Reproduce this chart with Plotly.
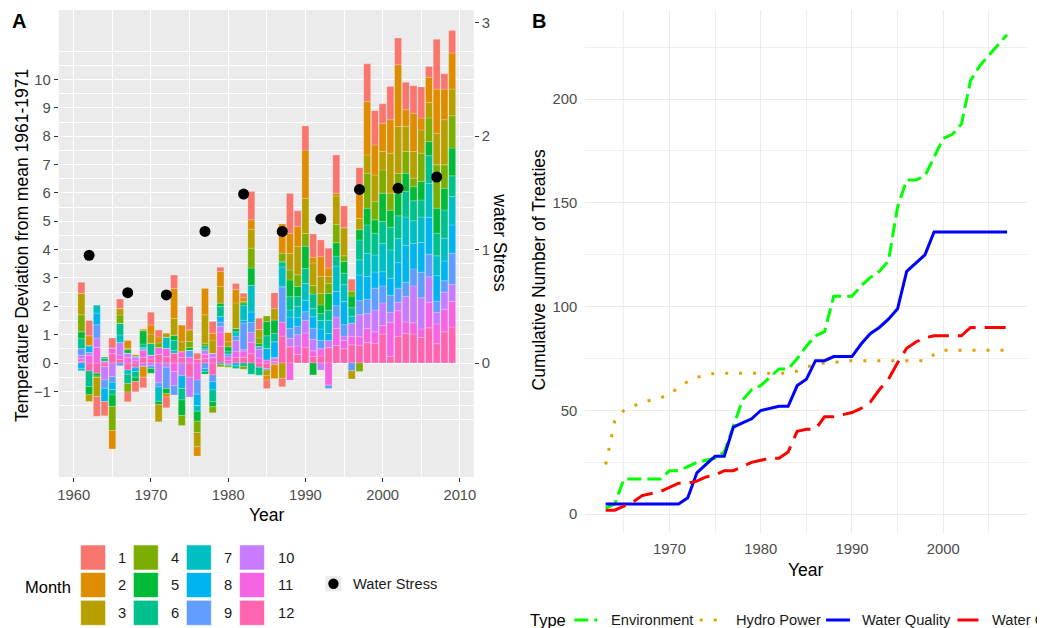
import plotly.graph_objects as go

W, H = 1045, 628
# the page body adds an 8px margin; positions below are screen pixels
OFF_X, OFF_Y = 8, 8

# ---------------- Panel A data ----------------
years = list(range(1961, 2010))
month_labels = ["1", "2", "3", "4", "5", "6", "7", "8", "9", "10", "11", "12"]
month_colors = ["#F8766D", "#DE8C00", "#B79F00", "#7CAE00", "#00BA38", "#00C08B",
                "#00BFC4", "#00B4F0", "#619CFF", "#C77CFF", "#F564E3", "#FF64B0"]

m1 = [0.39, 0.54, -0.7, -0.5, 0.35, 0.33, -0.35, -0.36, -0.37, 0.45,
      0.24, -0.38, 0.47, 0, 0.82, 0.2, 0, 0.41, 0.15, 0,
      0.21, 0.14, 1.0, 0.4, -0.3, 0.55, -0.3, 1.41, 0.56, 0.85,
      0.82, 0.59, 0.7, 1.35, 0.77, 0.41, 0.79, 1.33, 1.21, 0.68,
      1.17, 0.94, 0.97, 0.97, 1.09, 0.38, 1.76, 0.54, 0.8]
m2 = [0, 0.35, 0, 0, -0.65, 0, 0.27, 0, -0.38, 0.32,
      0.21, -0.12, 1.06, 0.59, 0, -0.33, 0.94, 0.24, 0.53, 0.33,
      0.47, 0.15, 0.33, 0, -0.15, -0.5, 1.03, 0.7, 0.7, 1.7,
      0.2, 0.7, 0.3, 0.1, 0, 0, 1.0, 1.88, 1.06, 1.0,
      1.18, 2.18, 0.59, 1.35, 0.42, 0.89, 1.56, 1.08, 1.27]
m3 = [0.76, -0.24, -0.67, 0, 0, 0.24, 0.05, 0.05, 0.05, 0.33,
      -0.6, 0.14, 0.59, 0.35, 0.41, -0.5, 1.0, 0.47, 0.59, 0.18,
      0.9, 0.05, 0.67, 0.3, -0.2, 0.41, -0.54, 0.59, 1.0, 1.24,
      0.8, 0.6, 0.25, 1.0, 0.99, -0.29, 0.4, 0.65, 0.94, 0.65,
      1.41, 1.65, 0.88, 0.94, 0.82, 0.55, 1.11, 1.59, 0.94]
m4 = [0.6, 0, -0.05, 0, -0.85, 0.29, -0.3, 0, 0, 0,
      0.16, 0, 0, -0.35, 0.21, -0.4, 0.1, -0.21, -0.08, -0.05,
      0, -0.1, 0.7, 0.2, 0.2, 0, 0.3, 0.35, 0.41, 0.45,
      0.3, 0.4, 0.35, 0.65, 0.2, 0.18, -0.3, 1.23, 0.64, 0.82,
      0.6, 0.7, 0.77, 0.3, 1.0, 0.83, 1.53, 0.83, 1.14]
m5 = [0.24, -0.29, -0.1, 0.06, -0.4, 0, 0.12, -0.15, 0.47, -0.16,
      -0.12, -0.18, 0.18, -0.55, 0.1, -0.35, -0.09, -0.18, 0.12, 0.15,
      0.12, 0.08, 0.61, 0.1, 0.5, 0.47, 0, 0.59, 0.35, 0.79,
      -0.42, 0.3, 0.59, 0.47, 0.41, 0.41, 0.36, 0.59, 0.47, 1.0,
      0.6, 0.8, 0.64, 0.5, 0.65, 0.5, 0.88, 0.76, 0.98]
m6 = [0.35, -0.55, 0, 0.1, -0.2, 0.41, -0.32, -0.2, 0.12, 0.41,
      0, 0, 0.35, -0.4, 0, 0, 0.1, -0.41, 0.35, 0.1,
      -0.09, -0.12, -0.4, -0.28, 0.45, 0.3, 0.18, 0.47, 0.35, 0.53,
      0.5, 0.25, 0.35, 0.35, 0.41, 0.3, 0.7, 1.0, 0.77, 0.77,
      0.8, 0.8, 0.9, 0.7, 0.6, 0.97, 0.8, 1.0, 0.73]
m7 = [-0.07, 0, 0.29, 0, 0, 0.27, -0.15, 0, 0.05, 0,
      -0.5, 0.39, 0.1, 0, 0, -0.2, 0.05, 0, -0.05, -0.05,
      0.15, 0.53, 0.94, 0, 0, 0, 0.7, 0.25, 0.4, 0.59,
      0.3, 0.3, 0.47, 0.9, 0.59, 0.24, 0.54, 0.82, 0.6, 1.0,
      1.0, 0.85, 1.0, 0.8, 0.9, 1.2, 0.7, 0.8, 1.0]
m8 = [-0.2, 0.24, 0.41, -0.47, -0.25, 0, 0, -0.15, 0, 0,
      0, 0, 0, -0.45, 0, -0.4, -0.1, -0.29, 0.2, 0,
      -0.1, 0.1, 0.37, 0, 0.4, 0.55, 0, 0.4, 0.3, 0.4,
      0.4, 0.4, 0.25, 0.5, 0.82, 0, 0.9, 0.8, 0.57, 0.5,
      0.6, 0.9, 1.3, 0.9, 1.05, 1.3, 0.9, 0.7, 1.0]
m9 = [0.24, 0, 0.47, -0.29, -0.2, -0.1, 0, 0.05, 0.05, -0.1,
      -0.15, -0.75, -0.33, 0, 0.25, -0.5, -0.2, -0.24, 0.15, 0.1,
      0.15, 0.94, 0.35, 0.1, -0.05, 0.05, 1.24, 0.35, 0.3, 0.3,
      0.4, 0.3, -0.12, 0.4, 0.4, -0.27, 0.5, 0.5, 0.77, 0.6,
      0.6, 0.5, 0.5, 0.6, 0.9, 0.8, 0.4, 0.4, 1.1]
m10 = [0.12, 0.1, 0.33, -0.47, -0.48, 0.44, 0.15, 0.1, -0.12, -0.1,
       -0.7, -0.15, -0.5, -0.45, -0.7, 0, 0.15, 0.14, 0.2, -0.05,
       0.4, 0.05, 0.35, 0.3, 0, -0.05, 0, 0.3, 0.4, 0.45,
       0.4, -0.25, 0.25, 0.4, 0.15, 0.47, 0.77, 0.53, 0.77, 0.8,
       0.35, 0.3, 0.9, 1.3, 1.1, 0.9, 0.4, 0.6, 0.6]
m11 = [0.1, 0.27, 0.55, 0.06, 0.2, 0.15, 0.2, 0.1, 0.25, 0.14,
       0.25, 0.3, -0.3, 0.2, 0.2, -0.6, 0.15, 0.2, 0.5, 0.12,
       0.2, 0.22, 0.4, 0.18, 0.11, 0.1, 0.5, -0.6, 0.3, 0.5,
       0.2, 0.25, -0.78, 0.6, 0.3, 0.3, 0.3, 0.5, 0.4, 0.3,
       1.2, 0.9, 0.4, 0.4, 0.3, 0.9, 0.7, 0.8, 0.9]
m12 = [0.05, -0.28, -0.36, -0.13, 0.33, 0.13, -0.25, -0.15, 0.2, 0.14,
       0.3, 0.22, 0.35, 0.2, -0.5, 0.14, 0.15, -0.42, 0.59, 0.1,
       0.2, 0.2, 0.33, -0.15, -0.2, 0.05, 0.95, 0.57, 0.3, 0.56,
       0.23, 0.25, 0.54, 0.62, 0.5, 0.64, 0.63, 0.72, 0.7, 1.02,
       0.24, 0.94, 1.05, 1.02, 0.9, 1.24, 0.68, 1.1, 1.27]
temp_by_month = [m1, m2, m3, m4, m5, m6, m7, m8, m9, m10, m11, m12]

ws_years = [1962, 1967, 1972, 1977, 1982, 1987, 1992, 1997, 2002, 2007]
water_stress = [0.95, 0.62, 0.60, 1.16, 1.49, 1.16, 1.27, 1.53, 1.54, 1.64]

# ---------------- Panel B data ----------------
treaty_years = list(range(1963, 2008))
environment = [3, 5, 17, 17, 17, 17, 17, 21, 21, 23, 25, 26, 27, 30, 42, 55, 60, 62, 66, 70,
               70, 75, 81, 86, 88, 105, 105, 105, 110, 114, 117, 122, 148, 161, 161, 163, 172,
               181, 183, 188, 209, 216, 221, 226, 231]
hydro_power = [24, 45, 50, 52, 54, 55, 56, 58, 61, 64, 66, 67, 68, 68, 68, 68, 68, 68, 68, 68,
               68, 69, 71, 72, 73, 73, 74, 74, 74, 74, 74, 74, 74, 74, 74, 74, 77, 79, 79, 79,
               79, 79, 79, 79, 79]
water_quality = [5, 5, 5, 5, 5, 5, 5, 5, 5, 8, 20, 24, 28, 28, 42, 44, 46, 50, 51, 52, 52, 62,
                 65, 74, 74, 76, 76, 76, 82, 87, 90, 94, 99, 117, 121, 125, 136, 136, 136, 136,
                 136, 136, 136, 136, 136]
water_quantity = [2, 2, 4, 6, 9, 10, 11, 13, 15, 15, 16, 18, 19, 21, 21, 23, 25, 26, 27, 27, 30,
                  40, 41, 41, 47, 47, 48, 49, 51, 54, 60, 65, 73, 80, 83, 85, 86, 86, 86, 86, 90,
                  90, 90, 90, 90]
type_names = ["Environment", "Hydro Power", "Water Quality", "Water Quantity"]
type_colors = ["#00FF00", "#E69F00", "#0000FF", "#FF0000"]
type_dashes = ["14px,6px", "3px,11px", "solid", "21px,9px"]
type_values = [environment, hydro_power, water_quality, water_quantity]

FONT = "Liberation Sans, Arial, sans-serif"
TICK = dict(family=FONT, size=14.8, color="#4D4D4D")


def px_x(p):
    return (p - OFF_X) / W


def px_y(p):
    return 1 - (p - OFF_Y) / H


fig = go.Figure()

# stacked bars: month 12 nearest zero, month 1 outermost
for i in reversed(range(12)):
    fig.add_trace(go.Bar(
        x=years, y=temp_by_month[i], name=month_labels[i], width=0.9,
        marker=dict(color=month_colors[i], line=dict(width=0.4, color="rgba(255,255,255,0.5)")),
        xaxis="x", yaxis="y", showlegend=False))

fig.add_trace(go.Scatter(
    x=ws_years, y=water_stress, mode="markers", name="Water Stress",
    marker=dict(color="black", size=11), xaxis="x", yaxis="y2", showlegend=False))

for name, vals, col, dash in zip(type_names, type_values, type_colors, type_dashes):
    fig.add_trace(go.Scatter(
        x=treaty_years, y=vals, mode="lines", name=name,
        line=dict(color=col, width=3, dash=dash),
        xaxis="x2", yaxis="y3", showlegend=False))

shapes = []
shapes.append(dict(type="rect", xref="x domain", yref="y domain", x0=0, x1=1, y0=0, y1=1,
                   fillcolor="#EBEBEB", line=dict(width=0), layer="below"))

# Month legend (manual keys)
key_cols = [79, 132, 185.3, 238.7]
key_rows = [557.5, 585, 612.8]
lab_cols = [115, 168, 221, 275]
annotations = []


def note(text, x, y, size, color, xanchor="center", angle=0):
    return dict(text=text, x=px_x(x), y=px_y(y), xref="paper", yref="paper",
                xanchor=xanchor, yanchor="middle", showarrow=False, textangle=angle,
                font=dict(family=FONT, size=size, color=color))


for i in range(12):
    c, r = i // 3, i % 3
    shapes.append(dict(type="rect", xref="paper", yref="paper",
                       x0=px_x(key_cols[c]), x1=px_x(key_cols[c] + 25),
                       y0=px_y(key_rows[r] + 12.5), y1=px_y(key_rows[r] - 12.5),
                       fillcolor=month_colors[i], line=dict(width=1, color="rgba(255,255,255,0.55)")))
    annotations.append(note(month_labels[i], lab_cols[c], key_rows[r], 14.7, "#1A1A1A", "left"))
annotations.append(note("Month", 21, 587, 16.5, "#000000", "left"))

# Water stress key
shapes.append(dict(type="rect", xref="paper", yref="paper", x0=px_x(325), x1=px_x(341),
                   y0=px_y(591.5), y1=px_y(576), fillcolor="#EBEBEB", line=dict(width=0)))
shapes.append(dict(type="circle", xref="paper", yref="paper", x0=px_x(327.8), x1=px_x(338.2),
                   y0=px_y(589), y1=px_y(578.6), fillcolor="black", line=dict(width=0)))
annotations.append(note("Water Stress", 350.5, 584, 14.7, "#1A1A1A", "left"))

# Type legend (manual)
annotations.append(note("Type", 528, 620, 16.5, "#000000", "left"))
leg_line_x = [(575, 598), (701, 721), (828, 852), (960, 982)]
leg_text_x = [610, 735, 862, 993]
for (x0, x1), tx, name, col, dash in zip(leg_line_x, leg_text_x, type_names, type_colors, type_dashes):
    shapes.append(dict(type="line", xref="paper", yref="paper", x0=px_x(x0), x1=px_x(x1),
                       y0=px_y(620), y1=px_y(620), line=dict(color=col, width=3, dash=dash)))
    annotations.append(note(name, tx, 620, 14.7, "#1A1A1A", "left"))

# titles / panel tags
annotations += [
    note("<b>A</b>", 17.5, 21.5, 20, "#000000"),
    note("<b>B</b>", 539.5, 21.5, 20, "#000000"),
    note("Temperature Deviation from mean 1961-1971", 20, 245, 17.5, "#000000", angle=-90),
    note("water Stress", 500, 243, 17.5, "#000000", angle=90),
    note("Year", 266, 515, 17.5, "#000000"),
    note("Cumulative Number of Treaties", 540, 270, 17.5, "#000000", angle=-90),
    note("Year", 808, 570, 17.5, "#000000"),
]

minor_a_y = [v / 2 for v in range(-4, 23) if not (v % 2 == 0 and -1 <= v // 2 <= 10)]

fig.update_layout(
    width=W, height=H, margin=dict(l=0, r=0, t=0, b=0),
    paper_bgcolor="white", plot_bgcolor="white", barmode="relative", showlegend=False,
    font=dict(family=FONT),
    xaxis=dict(domain=[px_x(57), px_x(474)], range=[1958.07, 2011.8], anchor="y",
               tickvals=[1960, 1970, 1980, 1990, 2000, 2010], ticks="outside", ticklen=4,
               tickcolor="#333333", tickwidth=1, tickfont=TICK, showgrid=True, gridcolor="white",
               gridwidth=1.1, zeroline=False, showline=False,
               minor=dict(tickvals=[1965, 1975, 1985, 1995, 2005], showgrid=True,
                          gridcolor="white", gridwidth=0.6, ticks="")),
    yaxis=dict(domain=[px_y(477), px_y(10)], range=[-4.02, 12.45], anchor="x",
               tickvals=list(range(-1, 11)), ticks="outside", ticklen=4, tickcolor="#333333",
               tickwidth=1, tickfont=TICK, showgrid=True, gridcolor="white", gridwidth=1.1,
               zeroline=False, showline=False,
               minor=dict(tickvals=minor_a_y, showgrid=True, gridcolor="white", gridwidth=0.6, ticks="")),
    yaxis2=dict(overlaying="y", anchor="x", side="right", range=[-4.02 / 4, 12.45 / 4],
                tickvals=[0, 1, 2, 3], ticks="outside", ticklen=4, tickcolor="#333333",
                tickwidth=1, tickfont=TICK, showgrid=False, zeroline=False, showline=False),
    xaxis2=dict(domain=[px_x(586), px_x(1030)], range=[1960.76, 2009.2], anchor="y3",
                tickvals=[1970, 1980, 1990, 2000], ticks="outside", ticklen=2,
                tickcolor="rgba(0,0,0,0)", tickfont=TICK, showgrid=True, gridcolor="#EBEBEB",
                gridwidth=1.1, zeroline=False, showline=False,
                minor=dict(tickvals=[1965, 1975, 1985, 1995, 2005], showgrid=True,
                           gridcolor="#EFEFEF", gridwidth=0.7, ticks="")),
    yaxis3=dict(domain=[px_y(533), px_y(10)], range=[-9.0, 242.9], anchor="x2",
                tickvals=[0, 50, 100, 150, 200], ticks="outside", ticklen=4,
                tickcolor="rgba(0,0,0,0)", tickfont=TICK, showgrid=True, gridcolor="#EBEBEB",
                gridwidth=1.1, zeroline=False, showline=False,
                minor=dict(tickvals=[25, 75, 125, 175, 225], showgrid=True,
                           gridcolor="#EFEFEF", gridwidth=0.7, ticks="")),
    shapes=shapes, annotations=annotations,
)

fig.write_html("out.html")
